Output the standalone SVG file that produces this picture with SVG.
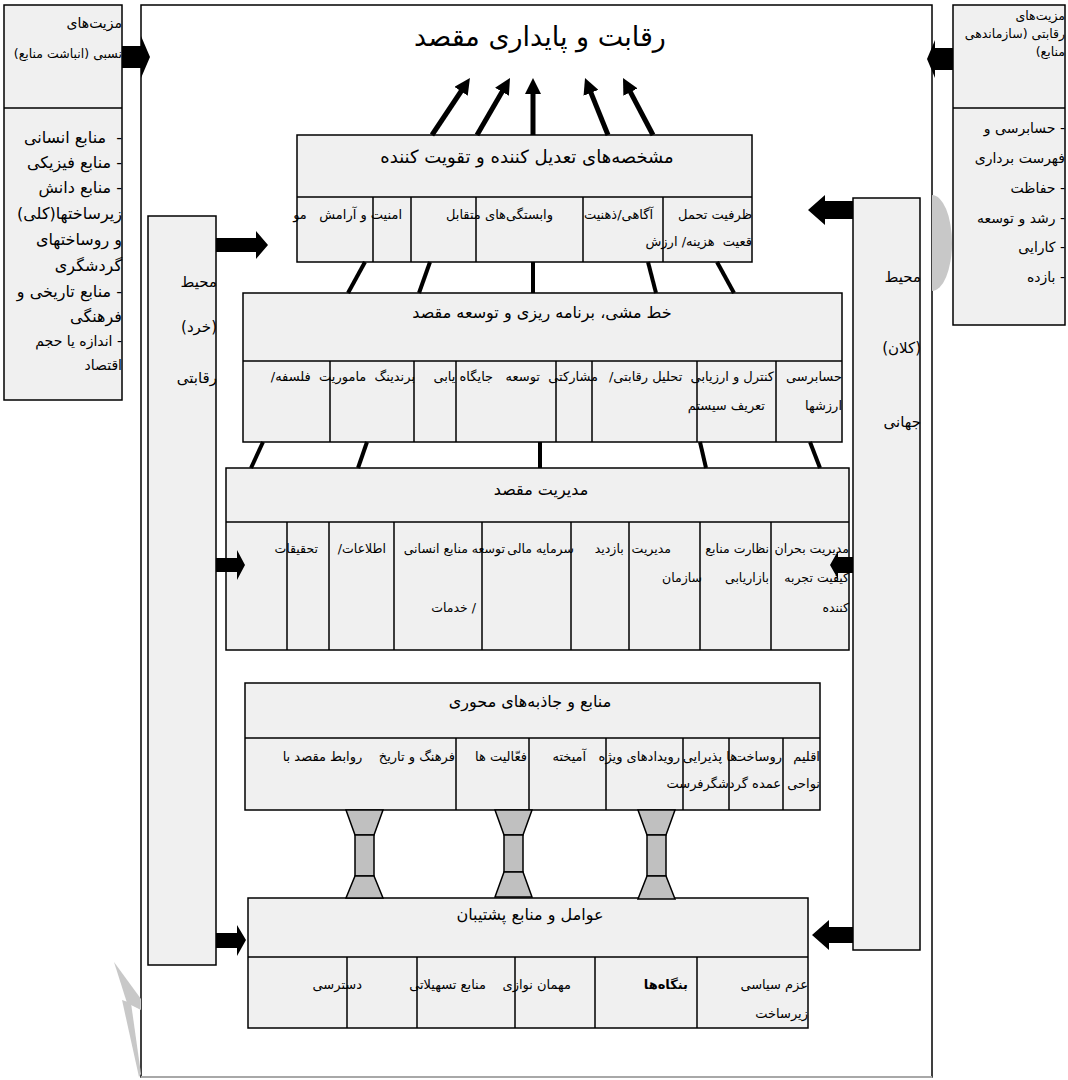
<svg xmlns="http://www.w3.org/2000/svg" width="1068" height="1080" viewBox="0 0 1068 1080">
<style>
text{font-family:"DejaVu Sans",sans-serif;fill:#000;white-space:pre}
.r{direction:rtl;text-anchor:start;font-size:13px}
.r3{direction:rtl;text-anchor:start;font-size:12.5px}
.c{direction:rtl;text-anchor:middle;font-size:16px}
.box{fill:#f0f0f0;stroke:#000;stroke-width:1.5}
.ln{stroke:#000;stroke-width:1.5;fill:none}
.thick{stroke:#000;stroke-width:4;fill:none}
.up{stroke:#000;stroke-width:5;fill:none;marker-end:url(#ah)}
.blk{fill:#000}
.neck{fill:#c0c0c0;stroke:#000;stroke-width:1.5}
.big{direction:rtl;text-anchor:start;font-size:16px}
.sm{direction:rtl;text-anchor:start;font-size:14px}
.env{direction:rtl;text-anchor:start;font-size:15px}
.wm{fill:#c8c8c8}
</style>
<defs>
<marker id="ah" viewBox="0 0 16 16" refX="4" refY="8" markerWidth="16" markerHeight="16" markerUnits="userSpaceOnUse" orient="auto">
<path d="M0,0 L16,8 L0,16 z" fill="#000"/>
</marker>
</defs>

<rect width="1068" height="1080" fill="#fff"/>

<g id="frame">
<rect x="141" y="5" width="791" height="1072" fill="#fff" stroke="#000" stroke-width="1.5"/>
<line x1="141" y1="1077" x2="932" y2="1077" stroke="#a8a8a8" stroke-width="2"/>
<path class="wm" d="M932 195 A20 48 0 0 1 932 291 Z"/>
<polygon class="wm" points="114,962 141,999 141,1010 127,1003"/>
<polygon class="wm" points="122,1000 131,1003 141,1074 139,1077"/>
</g>

<g id="title">
<text x="540" y="46" style="direction:rtl;text-anchor:middle;font-size:27px">رقابت و پایداری مقصد</text>
</g>

<g id="left-advantages">
<rect class="box" x="4" y="5" width="118" height="395"/>
<line class="ln" x1="4" y1="108" x2="122" y2="108"/>
<text class="sm" x="122" y="28">مزیت‌های</text>
<text class="r3" x="122" y="58" style="font-size:12.5px">نسبی (انباشت منابع)</text>
<text class="big" x="122" y="143">-  منابع انسانی</text>
<text class="big" x="122" y="168">- منابع فیزیکی</text>
<text class="big" x="122" y="193">- منابع دانش</text>
<text class="big" x="122" y="219">زیرساختها(کلی)</text>
<text class="big" x="122" y="245">و روساختهای</text>
<text class="big" x="122" y="271">گردشگری</text>
<text class="big" x="122" y="297">- منابع تاریخی و</text>
<text class="big" x="122" y="322">فرهنگی</text>
<text class="sm" x="122" y="346">- اندازه یا حجم</text>
<text class="sm" x="122" y="370">اقتصاد</text>
</g>

<g id="right-advantages">
<rect class="box" x="953" y="5" width="112" height="320"/>
<line class="ln" x1="953" y1="108" x2="1065" y2="108"/>
<text class="r3" x="1065" y="20">مزیت‌های</text>
<text class="r3" x="1065" y="38">رقابتی (سازماندهی</text>
<text class="r3" x="1065" y="56">منابع)</text>
<text class="sm" x="1065" y="133">- حسابرسی و</text>
<text class="sm" x="1065" y="163">فهرست برداری</text>
<text class="sm" x="1065" y="193">- حفاظت</text>
<text class="sm" x="1065" y="223">- رشد و توسعه</text>
<text class="sm" x="1065" y="252">- کارایی</text>
<text class="sm" x="1065" y="282">- بازده</text>
</g>

<g id="micro-env">
<rect class="box" x="148" y="216" width="68" height="749"/>
<text class="env" x="217" y="287">محیط</text>
<text class="env" x="217" y="332">(خرد)</text>
<text class="env" x="217" y="383">رقابتی</text>
</g>

<g id="macro-env">
<rect class="box" x="853" y="198" width="67" height="752"/>
<text class="env" x="921" y="282">محیط</text>
<text class="env" x="921" y="353">(کلان)</text>
<text class="env" x="921" y="427">جهانی</text>
</g>

<g id="box-modifiers">
<rect class="box" x="297" y="135" width="455" height="127"/>
<line class="ln" x1="297" y1="197" x2="752" y2="197"/>
<line class="ln" x1="373" y1="197" x2="373" y2="262"/>
<line class="ln" x1="411" y1="197" x2="411" y2="262"/>
<line class="ln" x1="476" y1="197" x2="476" y2="262"/>
<line class="ln" x1="583" y1="197" x2="583" y2="262"/>
<line class="ln" x1="663" y1="197" x2="663" y2="262"/>
<text class="c" x="527" y="163" style="font-size:18px">مشخصه‌های تعدیل کننده و تقویت کننده</text>
<text class="r" x="752" y="219">ظرفیت تحمل</text>
<text class="r" x="752" y="246">قعیت  هزینه/ ارزش</text>
<text class="r" x="653" y="219">آگاهی/ذهنیت</text>
<text class="r" x="553" y="219">وابستگی‌های متقابل</text>
<text class="r" x="402" y="219">امنیت و آرامش   مو</text>
</g>

<g id="box-policy">
<rect class="box" x="243" y="293" width="599" height="149"/>
<line class="ln" x1="243" y1="361" x2="842" y2="361"/>
<line class="ln" x1="330" y1="361" x2="330" y2="442"/>
<line class="ln" x1="414" y1="361" x2="414" y2="442"/>
<line class="ln" x1="456" y1="361" x2="456" y2="442"/>
<line class="ln" x1="556" y1="361" x2="556" y2="442"/>
<line class="ln" x1="592" y1="361" x2="592" y2="442"/>
<line class="ln" x1="697" y1="361" x2="697" y2="442"/>
<line class="ln" x1="776" y1="361" x2="776" y2="442"/>
<text class="c" x="542" y="318">خط مشی، برنامه ریزی و توسعه مقصد</text>
<text class="r" x="842" y="381">حسابرسی</text>
<text class="r" x="842" y="410">ارزشها</text>
<text class="r" x="774" y="381">کنترل و ارزیابی  تحلیل رقابتی/</text>
<text class="r" x="765" y="410">تعریف سیستم</text>
<text class="r" x="598" y="381">مشارکتی  توسعه   جایگاه یابی</text>
<text class="r" x="415" y="381">برندینگ  ماموریت  فلسفه/</text>
</g>

<g id="box-management">
<rect class="box" x="226" y="468" width="623" height="182"/>
<line class="ln" x1="226" y1="522" x2="849" y2="522"/>
<line class="ln" x1="287" y1="522" x2="287" y2="650"/>
<line class="ln" x1="329" y1="522" x2="329" y2="650"/>
<line class="ln" x1="394" y1="522" x2="394" y2="650"/>
<line class="ln" x1="482" y1="522" x2="482" y2="650"/>
<line class="ln" x1="571" y1="522" x2="571" y2="650"/>
<line class="ln" x1="629" y1="522" x2="629" y2="650"/>
<line class="ln" x1="700" y1="522" x2="700" y2="650"/>
<line class="ln" x1="771" y1="522" x2="771" y2="650"/>
<text class="c" x="541" y="495">مدیریت مقصد</text>
<text class="r3" x="849" y="553">مدیریت بحران</text>
<text class="r3" x="769" y="553">نظارت منابع</text>
<text class="r3" x="671" y="553">مدیریت  بازدید</text>
<text class="r3" x="574" y="553">سرمایه مالی</text>
<text class="r3" x="505" y="553">توسعه منابع انسانی</text>
<text class="r3" x="386" y="553">اطلاعات/</text>
<text class="r3" x="318" y="553">تحقیقات</text>
<text class="r3" x="849" y="582">کیفیت تجربه</text>
<text class="r3" x="769" y="582">بازاریابی</text>
<text class="r3" x="702" y="582">سازمان</text>
<text class="r3" x="849" y="612">کننده</text>
<text class="r3" x="476" y="612">/ خدمات</text>
</g>

<g id="box-resources">
<rect class="box" x="245" y="683" width="575" height="127"/>
<line class="ln" x1="245" y1="738" x2="820" y2="738"/>
<line class="ln" x1="456" y1="738" x2="456" y2="810"/>
<line class="ln" x1="529" y1="738" x2="529" y2="810"/>
<line class="ln" x1="606" y1="738" x2="606" y2="810"/>
<line class="ln" x1="683" y1="738" x2="683" y2="810"/>
<line class="ln" x1="729" y1="738" x2="729" y2="810"/>
<line class="ln" x1="783" y1="738" x2="783" y2="810"/>
<text class="c" x="530" y="707">منابع و جاذبه‌های محوری</text>
<text class="r" x="820" y="761">اقلیم</text>
<text class="r" x="782" y="761">روساخت</text>
<text class="r" x="737" y="761">ها پذیرایی</text>
<text class="r" x="680" y="761">رویدادهای ویژه   آمیخته</text>
<text class="r" x="527" y="761">فعّالیت ها</text>
<text class="r" x="455" y="761">فرهنگ و تاریخ    روابط مقصد با</text>
<text class="r" x="820" y="788">نواحی</text>
<text class="r" x="781" y="788">عمده گردشگرفرست</text>
</g>

<g id="box-support">
<rect class="box" x="248" y="898" width="560" height="130"/>
<line class="ln" x1="248" y1="957" x2="808" y2="957"/>
<line class="ln" x1="347" y1="957" x2="347" y2="1028"/>
<line class="ln" x1="417" y1="957" x2="417" y2="1028"/>
<line class="ln" x1="515" y1="957" x2="515" y2="1028"/>
<line class="ln" x1="595" y1="957" x2="595" y2="1028"/>
<line class="ln" x1="697" y1="957" x2="697" y2="1028"/>
<text class="c" x="530" y="920">عوامل و منابع پشتیبان</text>
<text class="r" x="808" y="989">عزم سیاسی</text>
<text class="r" x="808" y="1018">زیرساخت</text>
<text class="r" x="688" y="989" font-weight="bold">بنگاه‌ها</text>
<text class="r" x="571" y="989">مهمان نوازی</text>
<text class="r" x="486" y="989">منابع تسهیلاتی</text>
<text class="r" x="362" y="989">دسترسی</text>
</g>

<g id="connectors">
<line class="up" x1="432" y1="135" x2="463.3" y2="88"/>
<line class="up" x1="477" y1="135" x2="504" y2="88.4"/>
<line class="up" x1="533" y1="135" x2="533" y2="90"/>
<line class="up" x1="608" y1="135" x2="589.5" y2="89.1"/>
<line class="up" x1="653" y1="135" x2="628.6" y2="88.6"/>

<line class="thick" x1="365" y1="262" x2="348" y2="293"/>
<line class="thick" x1="430" y1="262" x2="419" y2="293"/>
<line class="thick" x1="533" y1="262" x2="533" y2="293"/>
<line class="thick" x1="648" y1="262" x2="656" y2="293"/>
<line class="thick" x1="717" y1="262" x2="734" y2="293"/>

<line class="thick" x1="263" y1="442" x2="251" y2="468"/>
<line class="thick" x1="367" y1="442" x2="358" y2="468"/>
<line class="thick" x1="540" y1="442" x2="540" y2="468"/>
<line class="thick" x1="700" y1="442" x2="706" y2="468"/>
<line class="thick" x1="810" y1="442" x2="820" y2="468"/>

<polygon class="neck" points="346,810 383,810 374,835 355,835"/>
<rect class="neck" x="355" y="835" width="19" height="41"/>
<polygon class="neck" points="355,876 374,876 383,898 346,898"/>

<polygon class="neck" points="495,810 532,810 523,835 504,835"/>
<rect class="neck" x="504" y="835" width="19" height="37"/>
<polygon class="neck" points="504,872 523,872 532,897 495,897"/>

<polygon class="neck" points="638,810 675,810 666,835 647,835"/>
<rect class="neck" x="647" y="835" width="19" height="41"/>
<polygon class="neck" points="647,876 666,876 675,899 638,899"/>

<polygon class="blk" points="122,46 141,46 141,36 150,57 141,78 141,68 122,68"/>
<polygon class="blk" points="953,48 935,48 935,40 927,59 935,78 935,70 953,70"/>

<polygon class="blk" points="216,238 256,238 256,231 268,245 256,259 256,252 216,252"/>
<polygon class="blk" points="216,558 237,558 237,550 245,565 237,580 237,572 216,572"/>
<polygon class="blk" points="216,933 237,933 237,925 246,940 237,956 237,948 216,948"/>

<polygon class="blk" points="853,201 825,201 825,195 808,210 825,225 825,219 853,219"/>
<polygon class="blk" points="853,557 838,557 838,551 830,565 838,579 838,573 853,573"/>
<polygon class="blk" points="853,927 829,927 829,920 812,935 829,950 829,943 853,943"/>
</g>
</svg>
